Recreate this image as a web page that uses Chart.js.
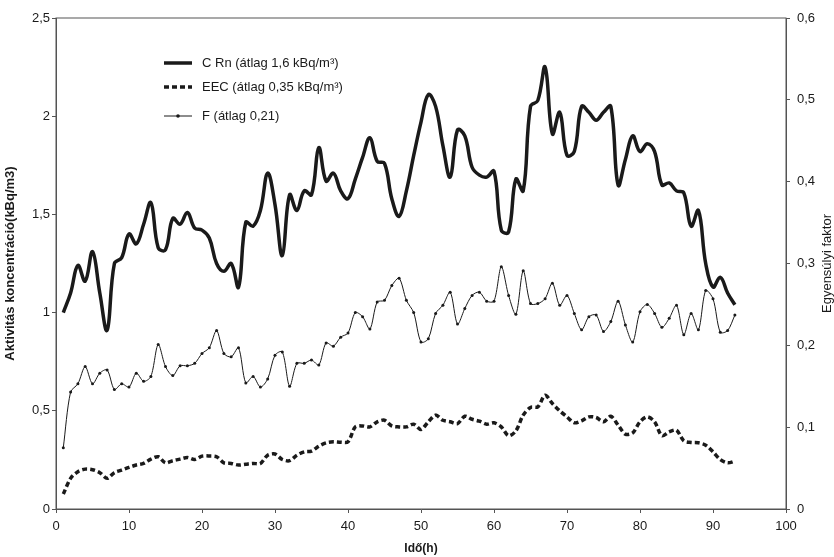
<!DOCTYPE html>
<html>
<head>
<meta charset="utf-8">
<script src="https://cdn.jsdelivr.net/npm/chart.js@4.4.1/dist/chart.umd.min.js"></script>
<style>
  html, body { margin: 0; padding: 0; background: #fff; }
  #wrap { width: 834px; height: 557px; }
</style>
</head>
<body>
<div id="wrap"><canvas id="chart"></canvas></div>
<script>
// measurement hours
const hours = [1,2,3,4,5,6,7,8,9,10,11,12,13,14,15,16,17,18,19,20,21,22,23,24,25,26,27,28,29,30,
  31,32,33,34,35,36,37,38,39,40,41,42,43,44,45,46,47,48,49,50,51,52,53,54,55,56,57,58,59,60,
  61,62,63,64,65,66,67,68,69,70,71,72,73,74,75,76,77,78,79,80,81,82,83,84,85,86,87,88,89,90,
  91,92,93];

// radon concentration, kBq/m3 (left axis)
const cRn = [1.00,1.10,1.24,1.16,1.31,1.10,0.91,1.25,1.28,1.40,1.35,1.45,1.56,1.33,1.32,1.48,1.45,1.51,1.43,1.42,
  1.38,1.25,1.21,1.25,1.13,1.46,1.44,1.52,1.71,1.55,1.29,1.60,1.52,1.62,1.60,1.84,1.67,1.71,1.62,1.58,
  1.68,1.79,1.89,1.77,1.76,1.58,1.49,1.62,1.80,1.97,2.11,2.05,1.85,1.69,1.93,1.90,1.74,1.70,1.69,1.72,
  1.42,1.41,1.68,1.62,2.05,2.08,2.25,1.91,2.02,1.80,1.82,2.05,2.02,1.98,2.02,2.05,1.65,1.78,1.90,1.82,
  1.86,1.82,1.65,1.66,1.62,1.61,1.44,1.52,1.25,1.13,1.18,1.10,1.04];

// equilibrium equivalent concentration, kBq/m3 (left axis)
const eec = [0.076,0.156,0.190,0.203,0.200,0.185,0.156,0.185,0.198,0.212,0.224,0.232,0.254,0.266,0.235,0.246,0.254,0.262,0.252,0.269,
  0.270,0.266,0.235,0.232,0.224,0.228,0.232,0.232,0.274,0.280,0.252,0.246,0.274,0.291,0.295,0.320,0.337,0.342,0.340,0.342,
  0.418,0.423,0.418,0.444,0.452,0.423,0.418,0.418,0.432,0.405,0.444,0.478,0.452,0.444,0.435,0.472,0.457,0.447,0.432,0.439,
  0.418,0.373,0.398,0.478,0.517,0.520,0.579,0.537,0.500,0.469,0.439,0.449,0.469,0.466,0.444,0.472,0.427,0.381,0.388,0.444,
  0.469,0.444,0.373,0.393,0.401,0.347,0.339,0.337,0.325,0.291,0.252,0.235,0.244];

// equilibrium factor (right axis)
const fFactor = [0.075,0.143,0.153,0.174,0.153,0.166,0.170,0.146,0.153,0.149,0.166,0.156,0.162,0.201,0.174,0.163,0.175,0.175,0.178,0.190,
  0.197,0.218,0.190,0.186,0.197,0.154,0.162,0.149,0.159,0.188,0.192,0.150,0.178,0.178,0.182,0.176,0.203,0.199,0.210,0.215,
  0.240,0.235,0.220,0.253,0.255,0.273,0.282,0.255,0.240,0.204,0.208,0.239,0.249,0.265,0.226,0.245,0.261,0.265,0.254,0.254,
  0.296,0.261,0.238,0.291,0.251,0.251,0.257,0.276,0.249,0.261,0.239,0.219,0.235,0.237,0.217,0.229,0.254,0.225,0.204,0.241,
  0.250,0.239,0.222,0.233,0.249,0.213,0.239,0.219,0.267,0.257,0.216,0.218,0.237];

const labels = ['C Rn (átlag 1,6 kBq/m³)', 'EEC (átlag 0,35 kBq/m³)', 'F (átlag 0,21)'];

const toPoints = vals => vals.map((v, i) => ({ x: hours[i], y: v }));
const comma = v => String(Math.round(v * 10) / 10).replace('.', ',');
const FONT = '"Liberation Sans", Arial, sans-serif';
const INK = '#1a1a1a';

// legend inside the plot + right axis title reading upwards + frame
const extras = {
  id: 'extras',
  afterDraw(chart) {
    const ctx = chart.ctx;
    const a = chart.chartArea;
    ctx.save();
    ctx.strokeStyle = '#555';
    ctx.lineWidth = 1;
    ctx.strokeRect(a.left, a.top, a.right - a.left, a.bottom - a.top);

    ctx.font = '13px ' + FONT;
    ctx.fillStyle = INK;
    ctx.textBaseline = 'middle';
    const rows = [63, 87, 116];
    chart.data.datasets.forEach((ds, i) => {
      const y = rows[i];
      ctx.beginPath();
      ctx.strokeStyle = INK;
      ctx.lineWidth = ds.borderWidth;
      ctx.setLineDash(ds.borderDash || []);
      ctx.moveTo(164, y);
      ctx.lineTo(192, y);
      ctx.stroke();
      ctx.setLineDash([]);
      if (ds.pointRadius > 0) {
        ctx.beginPath();
        ctx.arc(178, y, 1.8, 0, Math.PI * 2);
        ctx.fill();
      }
      ctx.fillText(ds.label, 202, y);
    });

    ctx.translate(827, (a.top + a.bottom) / 2);
    ctx.rotate(-Math.PI / 2);
    ctx.textAlign = 'center';
    ctx.font = '13px ' + FONT;
    ctx.fillText('Egyensúlyi faktor', 0, 0);
    ctx.restore();
  }
};

new Chart(document.getElementById('chart'), {
  type: 'line',
  data: {
    datasets: [
      {
        label: labels[0],
        data: toPoints(cRn),
        yAxisID: 'y',
        borderColor: INK,
        borderWidth: 3.5,
        pointRadius: 0,
        tension: 0.4
      },
      {
        label: labels[1],
        data: toPoints(eec),
        yAxisID: 'y',
        borderColor: INK,
        borderWidth: 3.5,
        borderDash: [5, 3],
        pointRadius: 0,
        tension: 0.3
      },
      {
        label: labels[2],
        data: toPoints(fFactor),
        yAxisID: 'y1',
        borderColor: INK,
        backgroundColor: INK,
        borderWidth: 1,
        pointRadius: 1.5,
        pointBorderWidth: 0,
        tension: 0.3
      }
    ]
  },
  options: {
    responsive: true,
    maintainAspectRatio: false,
    animation: false,
    layout: { padding: { top: 18 } },
    plugins: { legend: { display: false }, tooltip: { enabled: false } },
    scales: {
      x: {
        type: 'linear',
        min: 0, max: 100,
        afterFit: s => { s.height = 48; },
        grid: { display: true, drawOnChartArea: false, tickLength: 4, color: '#555' },
        border: { color: '#555' },
        ticks: { stepSize: 10, padding: 6, color: INK, font: { family: FONT, size: 13 } },
        title: { display: true, text: 'Idő(h)', color: INK, padding: { top: 0, bottom: 1 },
          font: { family: FONT, size: 12, weight: 'bold' } }
      },
      y: {
        position: 'left',
        min: 0, max: 2.5,
        afterFit: s => { s.width = 56; },
        grid: { display: true, drawOnChartArea: false, tickLength: 4, color: '#555' },
        border: { color: '#555' },
        ticks: { stepSize: 0.5, padding: 2, color: INK, callback: comma, font: { family: FONT, size: 13 } },
        title: { display: true, text: 'Aktivitás koncentráció(kBq/m3)', color: INK, padding: { top: 3, bottom: 0 },
          font: { family: FONT, size: 13, weight: 'bold' } }
      },
      y1: {
        position: 'right',
        min: 0, max: 0.6,
        afterFit: s => { s.width = 48; },
        grid: { display: true, drawOnChartArea: false, tickLength: 4, color: '#555' },
        border: { color: '#555' },
        ticks: { stepSize: 0.1, padding: 7, color: INK, callback: comma, font: { family: FONT, size: 13 } }
      }
    }
  },
  plugins: [extras]
});
</script>
</body>
</html>
